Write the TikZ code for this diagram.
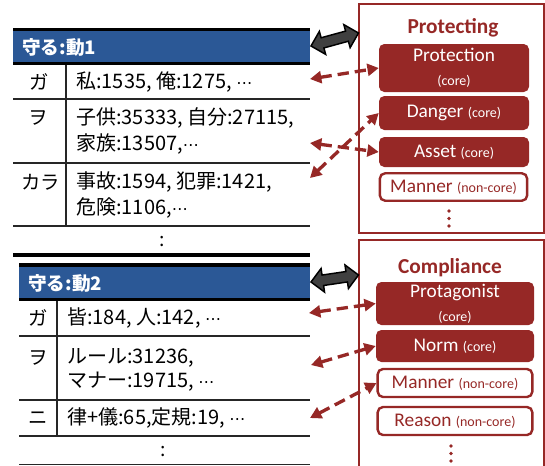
\documentclass[tikz,border=0pt]{standalone}
\usepackage{fontspec}
\setmainfont{Carlito}
\newfontfamily\jp{Noto Sans CJK JP}
\newfontfamily\dv{DejaVu Sans}
\usetikzlibrary{arrows.meta,shapes.arrows,calc}
\definecolor{hdrblue}{RGB}{43,88,150}
\definecolor{fred}{RGB}{150,40,38}
\definecolor{arrgray}{RGB}{64,64,64}
\tikzset{
  thickrule/.style={line width=2.3pt,black},
  thinrule/.style={line width=1.1pt,black!85},
  hdrtext/.style={anchor=west,inner sep=0,text=white,font=\jp\bfseries\fontsize{14}{16}\selectfont},
  lab/.style={inner sep=0,font=\jp\fontsize{14.5}{16}\selectfont},
  cell/.style={anchor=west,inner sep=0,font=\jp\fontsize{15}{17}\selectfont},
  ttl/.style={inner sep=0,text=fred,font=\bfseries\fontsize{16}{18}\selectfont},
  corebox/.style={fill=fred,text=white,rounded corners=4pt,inner sep=0,align=center,
    font=\fontsize{14.5}{18}\selectfont},
  ncbox/.style={draw=fred,line width=1.8pt,fill=white,text=fred,rounded corners=4pt,inner sep=0,
    align=center,font=\fontsize{14.5}{18}\selectfont},
  frame/.style={draw=fred,line width=1.6pt},
  dasharr/.style={draw=fred,line width=2.5pt,dash pattern=on 8.5pt off 4.5pt,
    {Triangle[length=8.5pt,width=9pt]}-{Triangle[length=8.5pt,width=9pt]}},
  dblarrow/.style={double arrow,draw=black,fill=arrgray,line width=1.1pt,inner xsep=0pt,
    inner ysep=3.4pt,double arrow head extend=5pt}
}
\newcommand{\sm}[1]{{\fontsize{10.5}{12}\selectfont #1}}
\newcommand{\mdots}{{\dv\fontsize{12}{14}\selectfont ⋯}}
\begin{document}
\begin{tikzpicture}[x=0.75pt,y=-0.75pt]
\useasboundingbox (0,0) rectangle (545,465);
% ---------- Table 1 ----------
\fill[hdrblue] (13,30) rectangle (310,63);
\draw[thickrule] (13,29.5) -- (310,29.5);
\draw[thickrule] (13,63.5) -- (310,63.5);
\draw[thinrule] (13,99) -- (310,99);
\draw[thinrule] (13,163) -- (310,163);
\draw[thinrule] (13,226) -- (310,226);
\draw[thinrule] (66,65) -- (66,226);
\node[hdrtext] (h1) at (22,47) {守る:動1};
\node[lab] (l1a) at (39,82) {ガ};
\node[lab] (l1b) at (38,118) {ヲ};
\node[lab] (l1c) at (41,182) {カラ};
\node[cell] (c1a) at (76,82) {私:1535, 俺:1275, \mdots};
\node[cell] (c1b1) at (76,118) {子供:35333, 自分:27115,};
\node[cell] (c1b2) at (76,143.5) {家族:13507,\mdots};
\node[cell] (c1c1) at (76,182) {事故:1594, 犯罪:1421,};
\node[cell] (c1c2) at (76,207.5) {危険:1106,\mdots};
\node[lab] (d1) at (162,241) {:};
\draw[thickrule] (13,255) -- (310,255);
% ---------- Table 2 ----------
\fill[hdrblue] (19,266) rectangle (310,299);
\draw[thickrule] (19,265) -- (310,265);
\draw[thickrule] (19,299.5) -- (310,299.5);
\draw[thinrule] (19,336) -- (310,336);
\draw[thinrule] (19,400) -- (310,400);
\draw[thinrule] (19,436) -- (310,436);
\draw[thinrule] (19,464.5) -- (310,464.5);
\draw[thinrule] (57,301) -- (57,436);
\node[hdrtext] (h2) at (28,283) {守る:動2};
\node[lab] (l2a) at (38,318) {ガ};
\node[lab] (l2b) at (38,358) {ヲ};
\node[lab] (l2c) at (38,418) {ニ};
\node[cell] (c2a) at (67,318) {皆:184, 人:142, \mdots};
\node[cell] (c2b1) at (67,358) {ルール:31236,};
\node[cell] (c2b2) at (67,382) {マナー:19715, \mdots};
\node[cell] (c2c) at (67,418) {律+儀:65,定規:19, \mdots};
\node[lab] (d2) at (163,451) {:};
% ---------- Frame 1: Protecting ----------
\draw[frame] (359,4) rectangle (544.5,233);
\node[ttl] (t1) at (453,28) {Protecting};
\node[corebox,minimum width=112.5pt,minimum height=36pt] (pro) at (454,68)
  {Protection\\\sm{(core)}};
\node[corebox,minimum width=112.5pt,minimum height=25.5pt] (dan) at (454,113) {Danger \sm{(core)}};
\node[corebox,minimum width=112.5pt,minimum height=22.5pt] (ass) at (454,152) {Asset \sm{(core)}};
\node[ncbox,minimum width=110.5pt,minimum height=20.6pt] (man1) at (453.5,187) {Manner \sm{(non-core)}};
\foreach \yy in {211,218.5,226} \fill[fred] (449,\yy) circle (1.4pt);
% ---------- Frame 2: Compliance ----------
\draw[frame] (359,240) rectangle (544.5,475);
\node[ttl] (t2) at (450,268) {Compliance};
\node[corebox,minimum width=118.5pt,minimum height=32.25pt] (prot) at (455,303.5)
  {Protagonist\\\sm{(core)}};
\node[corebox,minimum width=118.5pt,minimum height=24pt] (norm) at (455,346) {Norm \sm{(core)}};
\node[ncbox,minimum width=116pt,minimum height=21pt] (man2) at (455,383) {Manner \sm{(non-core)}};
\node[ncbox,minimum width=116pt,minimum height=21pt] (rea) at (455,421) {Reason \sm{(non-core)}};
\foreach \yy in {446,453.5,461} \fill[fred] (451,\yy) circle (1.4pt);
% ---------- connectors ----------
\coordinate (h1e) at (311,46);
\coordinate (f1w) at (358.5,33);
\coordinate (h2e) at (311,282);
\coordinate (f2w) at (358.5,275);
\path let \p1=($(f1w)-(h1e)$), \n1={atan2(\y1,\x1)}, \n2={veclen(\x1,\y1)} in
  node[dblarrow,rotate=\n1,minimum height=\n2] (da1) at ($(h1e)!0.5!(f1w)$) {};
\path let \p1=($(f2w)-(h2e)$), \n1={atan2(\y1,\x1)}, \n2={veclen(\x1,\y1)} in
  node[dblarrow,rotate=\n1,minimum height=\n2] (da2) at ($(h2e)!0.5!(f2w)$) {};
\coordinate (r1a) at (310,79);
\coordinate (r1b) at (310,143);
\coordinate (r1c) at (310,178);
\coordinate (r2a) at (309,313);
\coordinate (r2b) at (311,365);
\coordinate (r2c) at (310,418);
\draw[dasharr] (r1a) -- (pro.west);
\draw[dasharr] (r1b) -- (ass.west);
\draw[dasharr] (r1c) -- (dan.west);
\draw[dasharr] (r2a) -- (prot.west);
\draw[dasharr] (r2b) -- (norm.west);
\draw[dasharr] (r2c) -- (man2.west);
\end{tikzpicture}
\end{document}
